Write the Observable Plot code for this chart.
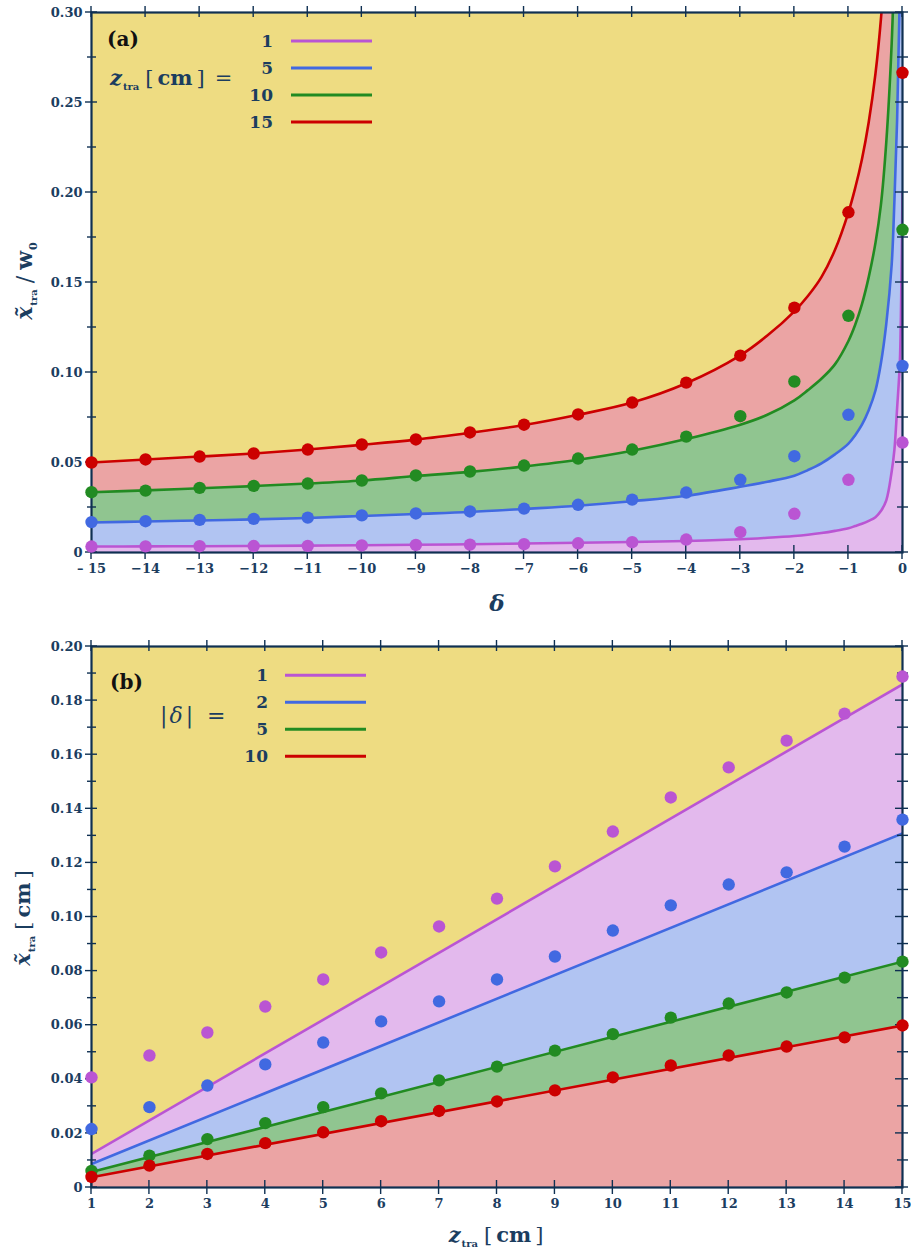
<!DOCTYPE html>
<html><head><meta charset="utf-8">
<script src="https://cdn.jsdelivr.net/npm/d3@7"></script>
<script src="https://cdn.jsdelivr.net/npm/@observablehq/plot@0.6"></script>
<style>
html,body{margin:0;padding:0;background:#fff;}
#chart svg{display:block;}
</style></head><body><div id="chart"></div>
<script>
// ---------- Panel (a) data ----------
const deltaPts = [-15,-14,-13,-12,-11,-10,-9,-8,-7,-6,-5,-4,-3,-2,-1,0];
const ptsZ1  = [0.0033,0.0034,0.0035,0.0036,0.0037,0.0039,0.0042,0.0044,0.0046,0.0051,0.0057,0.0072,0.0113,0.0215,0.0404,0.0611];
const ptsZ5  = [0.0169,0.0174,0.0181,0.0187,0.0194,0.0206,0.0217,0.0228,0.0244,0.0265,0.0294,0.0333,0.0404,0.0535,0.0765,0.1037];
const ptsZ10 = [0.0335,0.0344,0.0359,0.0370,0.0383,0.0400,0.0428,0.0450,0.0483,0.0522,0.0572,0.0644,0.0757,0.0950,0.1315,0.1793];
const ptsZ15 = [0.0500,0.0517,0.0533,0.0550,0.0572,0.0600,0.0628,0.0667,0.0710,0.0767,0.0833,0.0944,0.1094,0.1360,0.1890,0.2665];

const deltaCurve = [-15,-14,-13,-12,-11,-10,-9,-8,-7,-6,-5,-4,-3,-2.5,-2,-1.75,-1.5,-1.25,-1,-0.875,-0.75,-0.625,-0.5,-0.4,-0.3,-0.2,-0.15,-0.1,-0.05,-0.025,0];
const curveZ1  = [0.0033,0.0034,0.0035,0.0036,0.0038,0.0040,0.0043,0.0046,0.0050,0.0054,0.0058,0.0064,0.0074,0.0082,0.0092,0.0099,0.0108,0.0120,0.0135,0.0147,0.0160,0.0176,0.0196,0.0230,0.0290,0.0450,0.0570,0.0800,0.1050,0.1400,0.2000];
const curveZ5  = [0.0167,0.0172,0.0178,0.0184,0.0192,0.0203,0.0214,0.0225,0.0242,0.0260,0.0285,0.0315,0.0365,0.0393,0.0427,0.0458,0.0495,0.0545,0.0605,0.0652,0.0710,0.0790,0.0900,0.1050,0.1270,0.1600,0.1950,0.2400,0.3100,0.4000,0.5000];
const curveZ10 = [0.0335,0.0345,0.0357,0.0369,0.0383,0.0400,0.0425,0.0448,0.0478,0.0515,0.0565,0.0630,0.0710,0.0765,0.0845,0.0902,0.0965,0.1045,0.1175,0.1265,0.1380,0.1530,0.1720,0.1930,0.2280,0.2830,0.3300,0.4000,0.5500,0.7000,0.9000];
const curveZ15 = [0.0500,0.0517,0.0533,0.0550,0.0572,0.0598,0.0627,0.0665,0.0708,0.0765,0.0833,0.0940,0.1095,0.1205,0.1340,0.1425,0.1530,0.1680,0.1890,0.2025,0.2185,0.2390,0.2660,0.2960,0.3400,0.4200,0.4800,0.5600,0.7000,0.8000,0.9000];

const xTicksA = [-15,-14,-13,-12,-11,-10,-9,-8,-7,-6,-5,-4,-3,-2,-1,0];
const yTicksA = [0,0.05,0.10,0.15,0.20,0.25,0.30];
const yMinorA = [0.025,0.075,0.125,0.175,0.225,0.275];
const legendA = ["1","5","10","15"];

// ---------- Panel (b) data ----------
const zPts = [1,2,3,4,5,6,7,8,9,10,11,12,13,14,15];
const ptsD1  = [0.0407,0.0488,0.0573,0.0669,0.0769,0.0869,0.0965,0.1068,0.1187,0.1316,0.1442,0.1553,0.1652,0.1752,0.1889];
const ptsD2  = [0.0216,0.0297,0.0377,0.0455,0.0536,0.0614,0.0688,0.0769,0.0854,0.0950,0.1043,0.1120,0.1165,0.1260,0.1360];
const ptsD5  = [0.0061,0.0118,0.0179,0.0238,0.0297,0.0348,0.0396,0.0447,0.0506,0.0567,0.0628,0.0680,0.0721,0.0776,0.0835];
const ptsD10 = [0.0039,0.0081,0.0124,0.0164,0.0204,0.0245,0.0283,0.0318,0.0359,0.0407,0.0451,0.0488,0.0521,0.0555,0.0599];

const zLine = [1,15];
const lineD1  = [0.0124,0.1860];
const lineD2  = [0.0087,0.1309];
const lineD5  = [0.0057,0.0835];
const lineD10 = [0.0038,0.0599];

const xTicksB = [1,2,3,4,5,6,7,8,9,10,11,12,13,14,15];
const yTicksB = [0,0.02,0.04,0.06,0.08,0.10,0.12,0.14,0.16,0.18,0.20];
const yMinorB = [0.01,0.03,0.05,0.07,0.09,0.11,0.13,0.15,0.17,0.19];
const legendB = ["1","2","5","10"];

// ---------- styles ----------
const NAVY = "#1b3d5f";
const AXIS = "#0f3052";
const BG = "#EEDC82";
const LC = ["#BA55D3","#4169E1","#228B22","#CC0000"];
const FC = ["#E3B9ED","#B1C4F2","#90C590","#EBA4A4"];
const FONT = "DejaVu Serif";

const rowsA = deltaCurve.map((d,i)=>({x:d, a:curveZ1[i], b:curveZ5[i], c:curveZ10[i], d:curveZ15[i]}));
const rowsB = zLine.map((z,i)=>({x:z, a:lineD10[i], b:lineD5[i], c:lineD2[i], d:lineD1[i]}));
const toPts = (xs, ys) => xs.map((x,i)=>({x, y: ys[i]}));

const fmtY = d => d === 0 ? "0" : d.toFixed(2);
const fmtXA = d => d === 0 ? "0" : (d === -15 ? "\u2013 15" : "\u2212" + (-d));

function buildPlot(cfg) {
  const {rows, lineCols, fillCols, pts, ptCols, xDomain, yDomain, xTicks, yTicks, fmtX, height, mt, mb} = cfg;
  const marks = [Plot.frame({fill: BG, stroke: "none"})];
  const keys = ["a","b","c","d"];
  keys.forEach((k,i) => {
    marks.push(Plot.areaY(rows, {x: "x", y1: i === 0 ? 0 : keys[i-1], y2: k, fill: fillCols[i], curve: "catmull-rom", clip: true}));
  });
  keys.forEach((k,i) => {
    marks.push(Plot.line(rows, {x: "x", y: k, stroke: lineCols[i], strokeWidth: 2.6, curve: "catmull-rom", clip: true}));
  });
  marks.push(Plot.frame({stroke: AXIS, strokeWidth: 2.2}));
  marks.push(Plot.axisY({ticks: yTicks, tickSize: 0, tickPadding: 9, tickFormat: fmtY, label: null, fill: NAVY}));
  marks.push(Plot.axisX({ticks: xTicks, tickSize: 0, tickPadding: 11, tickFormat: fmtX, label: null, fill: NAVY}));
  pts.forEach((p,i) => marks.push(Plot.dot(p, {x: "x", y: "y", r: 6.2, fill: ptCols[i], stroke: "none"})));
  return Plot.plot({
    width: 911, height, marginTop: mt, marginBottom: mb, marginLeft: 91, marginRight: 9,
    x: {domain: xDomain}, y: {domain: yDomain},
    style: {fontFamily: FONT, fontSize: "13px", fontWeight: "bold", color: NAVY, background: "#fff"},
    marks
  });
}

function addTicks(plot, xMajor, yMajor, yMinor) {
  const sx = plot.scale("x"), sy = plot.scale("y");
  const L = sx.apply(sx.domain[0]), R = sx.apply(sx.domain[1]);
  const B = sy.apply(sy.domain[0]), T = sy.apply(sy.domain[1]);
  const firstDot = plot.querySelector('g[aria-label="dot"]');
  const g = d3.select(plot.insertBefore(document.createElementNS("http://www.w3.org/2000/svg","g"), firstDot))
    .attr("stroke", AXIS).attr("stroke-width", 1.4);
  const seg = (x1,y1,x2,y2) => g.append("line").attr("x1",x1).attr("y1",y1).attr("x2",x2).attr("y2",y2);
  yMajor.forEach(v => { const y = sy.apply(v); seg(L-6,y,L+6,y); seg(R-7,y,R+6,y); });
  yMinor.forEach(v => { const y = sy.apply(v); seg(L-4,y,L+5,y); seg(R-5,y,R+6,y); });
  xMajor.forEach(v => { const x = sx.apply(v); seg(x,T-6,x,T+5); seg(x,B-7,x,B+7); });
}

function rich(parent, x, y, parts, attrs) {
  const t = parent.append("text").attr("x", x).attr("y", y).attr("text-anchor", "start");
  Object.entries(attrs || {}).forEach(([k,v]) => t.attr(k, v));
  parts.forEach(p => {
    const s = t.append("tspan").text(p.t);
    if (p.size) s.attr("font-size", p.size);
    if (p.weight) s.attr("font-weight", p.weight);
    if (p.style) s.attr("font-style", p.style);
    if (p.dy) s.attr("dy", p.dy);
    if (p.dx) s.attr("dx", p.dx);
  });
  return t;
}

function legend(plot, labels, ys, numRight, lx1, lx2) {
  const g = d3.select(plot).append("g").attr("font-family", FONT).attr("text-anchor", "start");
  labels.forEach((lab, i) => {
    g.append("text").attr("x", numRight).attr("y", ys[i] + 5.5).attr("text-anchor", "end")
      .attr("font-size", 17).attr("font-weight", "bold").attr("fill", NAVY).text(lab);
    g.append("line").attr("x1", lx1).attr("x2", lx2).attr("y1", ys[i]).attr("y2", ys[i])
      .attr("stroke", LC[i]).attr("stroke-width", 3);
  });
  return g;
}

const chart = document.getElementById("chart");

// ---------- Plot (a) ----------
const plotA = buildPlot({
  rows: rowsA, lineCols: LC, fillCols: FC,
  pts: [toPts(deltaPts, ptsZ1), toPts(deltaPts, ptsZ5), toPts(deltaPts, ptsZ10), toPts(deltaPts, ptsZ15)],
  ptCols: LC, xDomain: [-15, 0], yDomain: [0, 0.30], xTicks: xTicksA, yTicks: yTicksA, fmtX: fmtXA,
  height: 625, mt: 12, mb: 73
});
chart.appendChild(plotA);
addTicks(plotA, xTicksA, yTicksA, yMinorA);
{
  const svg = d3.select(plotA);
  const gA = legend(plotA, legendA, [41, 68, 95, 122], 273, 291, 372);
  gA.append("text").attr("x", 107).attr("y", 46).attr("font-size", 20).attr("font-weight", "bold").attr("fill", "#111").text("(a)");
  rich(gA, 110, 85, [
    {t: "z", style: "italic", weight: "bold"},
    {t: "tra", size: 10, weight: "bold", dy: 5, dx: 1},
    {t: "[", weight: "normal", dy: -5, dx: 6},
    {t: "cm", weight: "bold", dx: 4},
    {t: "]", weight: "normal", dx: 4},
    {t: "=", weight: "normal", dx: 10}
  ], {"font-size": 21, fill: NAVY});
  const lab = svg.append("g").attr("font-family", FONT).attr("fill", NAVY);
  rich(lab, 497, 611, [{t: "\u03B4", style: "italic", weight: "bold"}], {"font-size": 23, "text-anchor": "middle"});
  rich(lab, 0, 0, [
    {t: "x\u0303", style: "italic", weight: "bold"},
    {t: "tra", size: 10, weight: "bold", dy: 5, dx: 1},
    {t: "/", weight: "normal", dy: -5, dx: 6},
    {t: "w", weight: "bold", dx: 6},
    {t: "0", size: 11, weight: "bold", dy: 5, dx: 1}
  ], {"font-size": 22, "text-anchor": "middle", transform: "translate(32,281) rotate(-90)"});
}

// ---------- Plot (b) ----------
const plotB = buildPlot({
  rows: rowsB, lineCols: [LC[3], LC[2], LC[1], LC[0]], fillCols: [FC[3], FC[2], FC[1], FC[0]],
  pts: [toPts(zPts, ptsD1), toPts(zPts, ptsD2), toPts(zPts, ptsD5), toPts(zPts, ptsD10)],
  ptCols: LC, xDomain: [1, 15], yDomain: [0, 0.20], xTicks: xTicksB, yTicks: yTicksB, fmtX: d => String(d),
  height: 627, mt: 21, mb: 65
});
chart.appendChild(plotB);
addTicks(plotB, xTicksB, yTicksB, yMinorB);
{
  const svg = d3.select(plotB);
  const off = 625;
  const gB = legend(plotB, legendB, [675.3-off, 702.3-off, 729.3-off, 756.3-off], 268, 285, 366);
  gB.append("text").attr("x", 110).attr("y", 689-off).attr("font-size", 20).attr("font-weight", "bold").attr("fill", "#111").text("(b)");
  rich(gB, 160, 723-off, [
    {t: "|", weight: "normal"},
    {t: "\u03B4", style: "italic", weight: "normal", dx: 2},
    {t: "|", weight: "normal", dx: 3},
    {t: "=", weight: "normal", dx: 14}
  ], {"font-size": 22, fill: NAVY});
  const lab = svg.append("g").attr("font-family", FONT).attr("fill", NAVY);
  rich(lab, 496, 1242-off, [
    {t: "z", style: "italic", weight: "bold"},
    {t: "tra", size: 10, weight: "bold", dy: 5, dx: 1},
    {t: "[", weight: "normal", dy: -5, dx: 6},
    {t: "cm", weight: "bold", dx: 4},
    {t: "]", weight: "normal", dx: 4}
  ], {"font-size": 21, "text-anchor": "middle"});
  rich(lab, 0, 0, [
    {t: "x\u0303", style: "italic", weight: "bold"},
    {t: "tra", size: 10, weight: "bold", dy: 5, dx: 1},
    {t: "[", weight: "normal", dy: -5, dx: 6},
    {t: "cm", weight: "bold", dx: 4},
    {t: "]", weight: "normal", dx: 4}
  ], {"font-size": 21, "text-anchor": "middle", transform: "translate(30," + (918-off) + ") rotate(-90)"});
}
</script>
</body></html>
